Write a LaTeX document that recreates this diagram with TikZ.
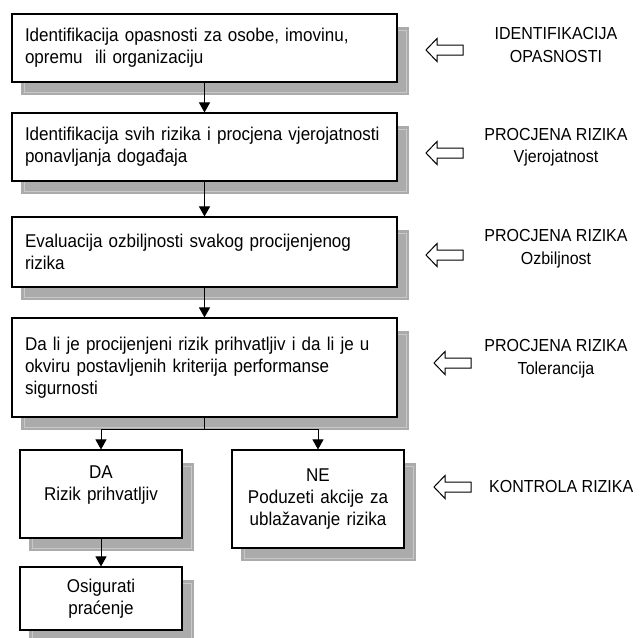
\documentclass[tikz,border=0pt]{standalone}
\usepackage{fontspec}
\setmainfont{Liberation Sans}[FakeStretch=0.92]
\usetikzlibrary{arrows.meta,backgrounds,calc}
\definecolor{shadowgray}{HTML}{ABABAB}
\definecolor{bevelgray}{HTML}{C8C8C8}
\tikzset{
  boxbase/.style={draw=black, line width=1.1pt, fill=white, inner ysep=2pt,
    font=\fontsize{18.5}{22}\selectfont},
  bigbox/.style={boxbase, text width=359pt, inner xsep=13pt, align=left,
    minimum width=385pt},
  smallbox/.style={boxbase, text width=150pt, inner xsep=6pt, align=center,
    minimum width=162pt},
  lab/.style={font=\fontsize{17.4}{22.5}\selectfont, align=center, inner sep=0pt},
  conn/.style={line width=1pt, draw=black},
  arr/.style={conn, -{Triangle[length=10pt,width=11pt]}},
  shd/.style={fill=shadowgray},
  bev/.style={draw=bevelgray, line width=0.6pt},
  hollow/.style={draw=black, line width=1pt, fill=white, line join=miter}
}
\newcommand{\boxshadow}[1]{%
  \fill[shd] ([shift={(10,14)}]#1.north west) rectangle ([shift={(11,12)}]#1.south east);
  \draw[bev] ([shift={(12.5,16.5)}]#1.north west) rectangle ([shift={(8.5,9.5)}]#1.south east);}
\newcommand{\hollowarrow}[2]{%
  \draw[hollow] (#1,#2) -- ++(11,-11.5) -- ++(0,6.5) -- ++(26,0) -- ++(0,10)
    -- ++(-26,0) -- ++(0,6.5) -- cycle;}
\begin{document}
\begin{tikzpicture}[x=1pt,y=-1pt]
\useasboundingbox (0,0) rectangle (641,638);

% main column
\node[bigbox, minimum height=68pt] (b1) at (204.5,48)
  {Identifikacija opasnosti za osobe, imovinu,\\opremu\ \ ili organizaciju};
\node[bigbox, minimum height=68pt] (b2) at (204.5,147)
  {Identifikacija svih rizika i procjena vjerojatnosti\\ponavljanja događaja};
\node[bigbox, minimum height=70pt] (b3) at (204.5,252)
  {Evaluacija ozbiljnosti svakog procijenjenog\\rizika};
\node[bigbox, minimum height=99pt] (b4) at (204.5,367.5)
  {Da li je procijenjeni rizik prihvatljiv i da li je u\\okviru postavljenih kriterija performanse\\sigurnosti};

% lower boxes
\node[smallbox, minimum height=88pt] (da) at (101,494)
  {DA\\Rizik prihvatljiv\\\mbox{}};
\node[smallbox, minimum height=98pt, text width=160pt, minimum width=172pt] (ne) at (318,499)
  {NE\\Poduzeti akcije za\\ublažavanje rizika};
\node[smallbox, minimum height=63pt] (os) at (101,598.5)
  {Osigurati\\praćenje};

% shadows
\begin{scope}[on background layer]
  \boxshadow{b1}
  \boxshadow{b2}
  \boxshadow{b3}
  \boxshadow{b4}
  \boxshadow{da}
  \boxshadow{ne}
  \boxshadow{os}
\end{scope}

% connectors
\draw[arr] (b1.south) -- (b2.north);
\draw[arr] (b2.south) -- (b3.north);
\draw[arr] (b3.south) -- (b4.north);
\coordinate (br) at ($(b4.south)+(0,12)$);
\draw[conn] (b4.south) -- (br);
\draw[arr] (br) -| (da.north);
\draw[arr] (br) -| (ne.north);
\draw[arr] (da.south) -- (os.north);

% right labels
\node[lab] (l1) at (556,45) {IDENTIFIKACIJA\\OPASNOSTI};
\node[lab] (l2) at (556,147) {PROCJENA RIZIKA\\Vjerojatnost};
\node[lab] (l3) at (556,248.5) {PROCJENA RIZIKA\\Ozbiljnost};
\node[lab] (l4) at (556,358.5) {PROCJENA RIZIKA\\Tolerancija};
\node[lab, anchor=west] (l5) at (489,487) {KONTROLA RIZIKA};

% hollow arrows
\hollowarrow{426}{50}
\hollowarrow{426}{153}
\hollowarrow{426}{255}
\hollowarrow{434}{363}
\hollowarrow{434}{487}
\end{tikzpicture}
\end{document}
